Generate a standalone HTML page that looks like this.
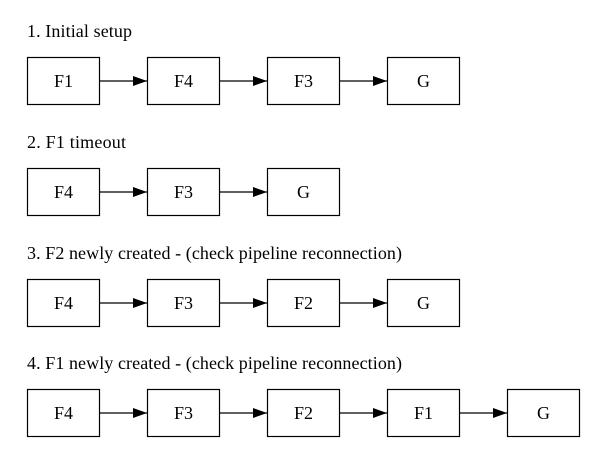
<!DOCTYPE html>
<html><head><style>body{margin:0;background:#fff}svg{display:block}text{font-family:"Liberation Serif",serif;font-size:18px;fill:#000}</style></head><body>
<svg width="605" height="464" viewBox="0 0 605 464" xmlns="http://www.w3.org/2000/svg">
<defs><marker id="a" markerWidth="14" markerHeight="10" refX="14" refY="5" orient="auto" markerUnits="userSpaceOnUse"><path d="M0,0L14,5L0,10z" fill="#000"/></marker></defs>
<g stroke="#000" stroke-width="1.2" fill="none">
<rect x="27.5" y="57.5" width="72" height="47"/><rect x="147.5" y="57.5" width="72" height="47"/><rect x="267.5" y="57.5" width="72" height="47"/><rect x="387.5" y="57.5" width="72" height="47"/>
<line x1="99.5" y1="81" x2="147" y2="81" marker-end="url(#a)"/><line x1="219.5" y1="81" x2="267" y2="81" marker-end="url(#a)"/><line x1="339.5" y1="81" x2="387" y2="81" marker-end="url(#a)"/>
<rect x="27.5" y="168.5" width="72" height="47"/><rect x="147.5" y="168.5" width="72" height="47"/><rect x="267.5" y="168.5" width="72" height="47"/>
<line x1="99.5" y1="192" x2="147" y2="192" marker-end="url(#a)"/><line x1="219.5" y1="192" x2="267" y2="192" marker-end="url(#a)"/>
<rect x="27.5" y="279.5" width="72" height="47"/><rect x="147.5" y="279.5" width="72" height="47"/><rect x="267.5" y="279.5" width="72" height="47"/><rect x="387.5" y="279.5" width="72" height="47"/>
<line x1="99.5" y1="303" x2="147" y2="303" marker-end="url(#a)"/><line x1="219.5" y1="303" x2="267" y2="303" marker-end="url(#a)"/><line x1="339.5" y1="303" x2="387" y2="303" marker-end="url(#a)"/>
<rect x="27.5" y="389.5" width="72" height="47"/><rect x="147.5" y="389.5" width="72" height="47"/><rect x="267.5" y="389.5" width="72" height="47"/><rect x="387.5" y="389.5" width="72" height="47"/><rect x="507.5" y="389.5" width="72" height="47"/>
<line x1="99.5" y1="413" x2="147" y2="413" marker-end="url(#a)"/><line x1="219.5" y1="413" x2="267" y2="413" marker-end="url(#a)"/><line x1="339.5" y1="413" x2="387" y2="413" marker-end="url(#a)"/><line x1="459.5" y1="413" x2="507" y2="413" marker-end="url(#a)"/>
</g>
<text x="27" y="37" textLength="105">1. Initial setup</text>
<text x="27" y="148" textLength="99">2. F1 timeout</text>
<text x="27" y="259" textLength="375">3. F2 newly created - (check pipeline reconnection)</text>
<text x="27" y="369" textLength="375">4. F1 newly created - (check pipeline reconnection)</text>
<g text-anchor="middle" style="font-size:17px">
<text x="63.5" y="87">F1</text><text x="183.5" y="87">F4</text><text x="303.5" y="87">F3</text><text x="423.5" y="87">G</text>
<text x="63.5" y="198">F4</text><text x="183.5" y="198">F3</text><text x="303.5" y="198">G</text>
<text x="63.5" y="309">F4</text><text x="183.5" y="309">F3</text><text x="303.5" y="309">F2</text><text x="423.5" y="309">G</text>
<text x="63.5" y="419">F4</text><text x="183.5" y="419">F3</text><text x="303.5" y="419">F2</text><text x="423.5" y="419">F1</text><text x="543.5" y="419">G</text>
</g>
</svg>
</body></html>
